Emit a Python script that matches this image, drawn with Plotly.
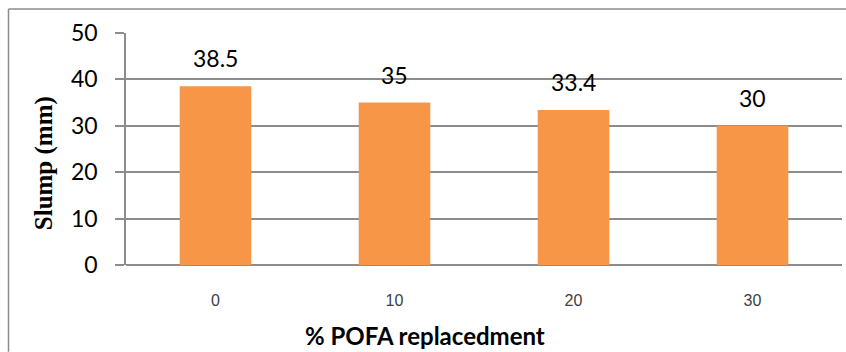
import plotly.graph_objects as go

# Slump of concrete mixes at each POFA replacement level
replacement = ["0", "10", "20", "30"]
slump_mm = [38.5, 35, 33.4, 30]
value_labels = ["38.5", "35", "33.4", "30"]

W, H = 846, 352
L, R, T, B = 126, 4, 32.5, 87
plot_w = W - L - R
plot_h = H - T - B


def px_x(px):
    return (px - L) / plot_w


def px_y(py):
    return (H - B - py) / plot_h


BAR = "#F79646"
GRID = "#8C8C8C"
SANS = "Lato, Liberation Sans, sans-serif"

fig = go.Figure()
fig.add_trace(go.Bar(
    x=replacement,
    y=slump_mm,
    marker=dict(color=BAR, line=dict(width=0)),
    width=0.4,
    hoverinfo="x+y",
))

annotations = []
for i, (val, lab) in enumerate(zip(slump_mm, value_labels)):
    # category index keeps the label centred over its bar
    annotations.append(dict(
        x=i, y=val, xref="x", yref="y", text=lab, showarrow=False,
        yanchor="bottom", yshift=12,
        font=dict(family=SANS, size=23, color="#000000"),
    ))

annotations.append(dict(
    x=px_x(425), y=px_y(336), xref="paper", yref="paper",
    text="<b>% POFA replacedment</b>", showarrow=False,
    xanchor="center", yanchor="middle",
    font=dict(family=SANS, size=24, color="#000000"),
))
annotations.append(dict(
    x=px_x(44), y=px_y(163), xref="paper", yref="paper",
    text="<b>Slump (mm)</b>", showarrow=False, textangle=-90,
    xanchor="center", yanchor="middle",
    font=dict(family="Liberation Serif, Times New Roman, serif", size=25, color="#000000"),
))

shapes = [
    # outer chart frame (left and top edges)
    dict(type="line", xref="paper", yref="paper",
         x0=px_x(8.5), x1=px_x(846), y0=px_y(8.5), y1=px_y(8.5),
         line=dict(color="#8C8C8C", width=1.5)),
    dict(type="line", xref="paper", yref="paper",
         x0=px_x(8.5), x1=px_x(8.5), y0=px_y(8.5), y1=px_y(352),
         line=dict(color="#8C8C8C", width=1.5)),
]

fig.update_layout(
    width=W, height=H,
    margin=dict(l=L, r=R, t=T, b=B, pad=0),
    paper_bgcolor="white",
    plot_bgcolor="white",
    showlegend=False,
    annotations=annotations,
    shapes=shapes,
    xaxis=dict(
        type="category",
        range=[-0.5, len(replacement) - 0.5],
        showgrid=False,
        showline=False,
        ticks="",
        ticklabelstandoff=24,
        tickfont=dict(family="Liberation Sans, Arial, sans-serif", size=16, color="#404040"),
        fixedrange=True,
    ),
    yaxis=dict(
        range=[0, 50],
        tickvals=[0, 10, 20, 30, 40, 50],
        showgrid=True,
        gridcolor=GRID,
        gridwidth=1.5,
        zeroline=True,
        zerolinecolor=GRID,
        zerolinewidth=1.5,
        showline=True,
        linecolor=GRID,
        linewidth=1.5,
        ticks="outside",
        ticklen=9,
        tickwidth=1.5,
        tickcolor=GRID,
        ticklabelstandoff=13,
        tickfont=dict(family=SANS, size=23, color="#000000"),
        fixedrange=True,
    ),
)

fig.write_html("out.html")
